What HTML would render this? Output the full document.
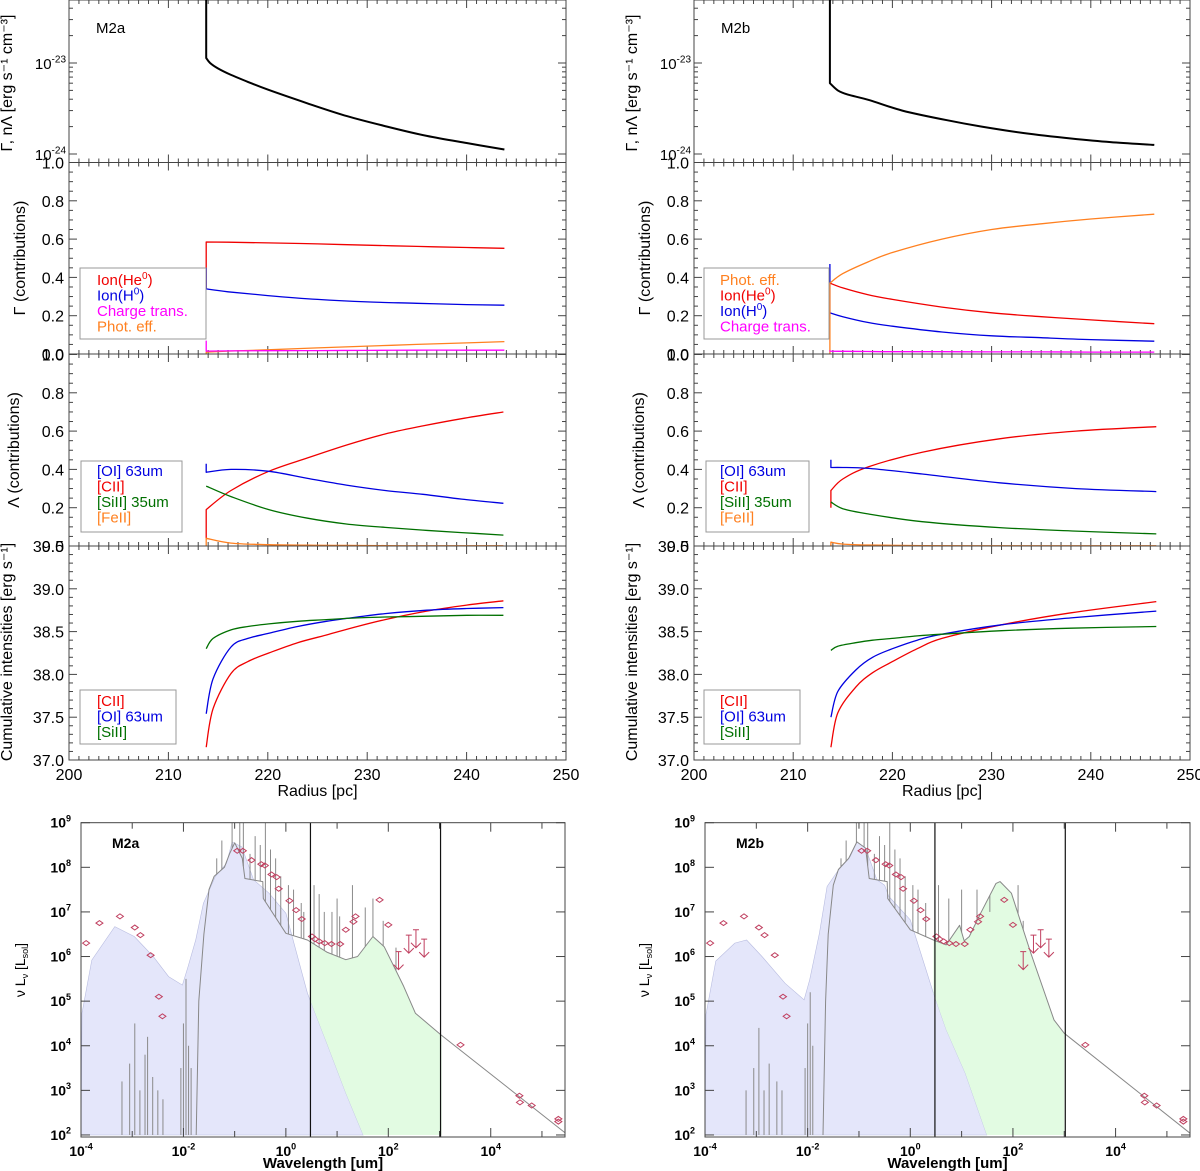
<!DOCTYPE html>
<html><head><meta charset="utf-8"><style>
body{margin:0;background:#fff}
svg{display:block;font-family:"Liberation Sans",sans-serif}
</style></head><body>
<svg id="fig" width="1200" height="1171" viewBox="0 0 1200 1171"></svg>
<script>
// ---------- Data: radius profiles (model M2a = L, M2b = R) ----------
const rHeatL=[213.8,213.8,214.2,215,216.3,218,220,224,228,232,236,240,243.8];
const heatL=[5e-23,1.135e-23,1.0e-23,8.7e-24,7.4e-24,6.2e-24,5.1e-24,3.6e-24,2.6e-24,2.0e-24,1.58e-24,1.32e-24,1.12e-24];
const rHeatR=[213.7,213.7,214.5,215.5,217.7,221,225.5,229,233.2,238,242,246.4];
const heatR=[5e-23,6.0e-24,5.0e-24,4.5e-24,3.9e-24,3.0e-24,2.35e-24,2.0e-24,1.7e-24,1.48e-24,1.35e-24,1.26e-24];

const rG2L=[213.8,213.8,216,220,225,230,235,240,243.8];
const heIonL=[0.34,0.585,0.584,0.58,0.575,0.568,0.562,0.556,0.552];
const hIonL=[0.45,0.34,0.325,0.305,0.285,0.272,0.265,0.258,0.255];
const ctL=[0.07,0.015,0.016,0.017,0.018,0.019,0.02,0.02,0.02];
const peL=[0.0,0.01,0.015,0.022,0.032,0.041,0.05,0.058,0.065];

const rG2R=[213.7,213.7,215,217.5,220,225,230,235,240,246.4];
const peR=[0.0,0.37,0.42,0.48,0.53,0.6,0.65,0.68,0.705,0.73];
const heIonR=[0.37,0.37,0.345,0.31,0.285,0.245,0.215,0.195,0.178,0.158];
const hIonR=[0.47,0.215,0.195,0.165,0.145,0.115,0.095,0.085,0.075,0.067];
const ctR=[0.02,0.015,0.014,0.013,0.012,0.012,0.011,0.011,0.01,0.01];

const rG3L=[213.8,213.8,216.3,220.1,224,227.9,231.8,235.6,239.5,243.7];
const ciiL=[0.04,0.19,0.29,0.39,0.46,0.527,0.585,0.627,0.665,0.70];
const oiL=[0.43,0.385,0.40,0.39,0.353,0.318,0.29,0.27,0.245,0.223];
const siiL=[0.313,0.313,0.258,0.19,0.145,0.115,0.097,0.083,0.07,0.057];
const feiiL=[0.0,0.04,0.015,0.007,0.004,0.003,0.002,0.001,0.001,0.001];

const rG3R=[213.8,213.8,215,217.6,223,230.8,238.5,246.6];
const ciiR=[0.2,0.29,0.35,0.414,0.49,0.56,0.60,0.623];
const oiR=[0.45,0.41,0.41,0.405,0.376,0.33,0.30,0.284];
const siiR=[0.23,0.23,0.195,0.167,0.127,0.096,0.078,0.063];
const feiiR=[0.0,0.02,0.01,0.005,0.002,0.001,0.001,0.001];

const rG4L=[213.8,214.5,216.3,218,220.1,223,225.9,229,231.8,236,240,243.7];
const ciiCumL=[37.15,37.6,38.01,38.15,38.25,38.37,38.46,38.56,38.64,38.74,38.81,38.86];
const oiCumL=[37.54,37.95,38.32,38.42,38.48,38.56,38.62,38.67,38.71,38.75,38.77,38.78];
const siiCumL=[38.30,38.42,38.52,38.56,38.59,38.62,38.64,38.66,38.67,38.68,38.69,38.69];
const rG4R=[213.8,214.5,216.3,218,220,222.5,225,231,238,246.6];
const ciiCumR=[37.15,37.55,37.85,38.02,38.15,38.3,38.42,38.58,38.72,38.85];
const oiCumR=[37.5,37.8,38.05,38.2,38.3,38.4,38.47,38.58,38.66,38.74];
const siiCumR=[38.28,38.33,38.37,38.40,38.42,38.45,38.47,38.51,38.54,38.56];

const radiusTicks=[200,210,220,230,240,250];
const fracTicks=[0.0,0.2,0.4,0.6,0.8,1.0];
const cumTicks=[37.0,37.5,38.0,38.5,39.0,39.5];

// ---------- Data: SEDs (log10 wavelength [um], log10 nuLnu [Lsol]) ----------
const stellarLamL=[-4,-3.98,-3.79,-3.34,-2.96,-2.59,-2.29,-2.02,-1.91,-1.76,-1.61,-1.38,-1.16,-1.05,-0.86,-0.63,-0.33,0.0,0.42,0.8,1.17,1.51];
const stellarLumL=[2,4.73,5.92,6.67,6.45,6.0,5.55,5.36,5.77,6.37,7.19,7.79,8.09,8.57,8.46,7.72,7.42,6.97,5.18,4.06,2.94,2];
const dustLamL=[0.49,0.8,1.17,1.4,1.7,1.92,2.3,2.53,3.04,3.04,1.51,1.17,0.8,0.49];
const dustLumL=[6.35,6.1,5.93,6.0,6.45,6.22,5.33,4.73,4.22,2,2,2.94,4.06,4.97];
const totLamL=[-1.75,-1.7,-1.6,-1.5,-1.4,-1.2,-1.1,-1.0,-0.85,-0.8,-0.45,-0.44,0,0.42,0.8,1.17,1.4,1.7,1.92,2.3,2.53,3.03,5.45];
const totLumL=[2,5,6.5,7.5,7.8,8.0,8.3,8.55,8.2,7.75,7.68,7.3,6.52,6.37,6.1,5.93,6.0,6.45,6.22,5.33,4.73,4.24,2.05];
const lineLamL=[-3.2,-3.05,-2.95,-2.85,-2.75,-2.7,-2.6,-2.5,-2.4,-2.05,-2.0,-1.95,-1.9,-1.85,-1.35,-1.25,-1.05,-0.9,-0.83,-0.7,-0.6,-0.5,-0.4,-0.3,-0.2,-0.1,0.05,0.15,0.3,0.35,0.55,0.65,0.75,0.9,1.0,1.05,1.3,1.55,1.7,1.9,2.15];
const lineTopL=[3.2,3.6,4.5,3.0,3.8,4.2,3.3,3.0,2.8,3.5,4.5,5.5,4.0,3.5,8.2,8.6,9,9,9,8.3,8.7,8.5,9,8.4,8.2,7.8,7.6,7.5,7.2,7.0,7.6,7.4,7.0,7.0,7.3,6.9,7.6,7.1,7.3,6.8,6.2];

const stellarLamR=[-4,-3.98,-3.79,-3.42,-3.19,-2.89,-2.44,-2.07,-1.96,-1.77,-1.62,-1.4,-1.17,-1.04,-0.87,-0.65,-0.5,-0.42,0.0,0.45,0.7,1.07,1.49];
const stellarLumR=[2,4.7,5.9,6.3,6.37,6.0,5.4,5.03,5.48,6.52,7.57,7.94,8.24,8.57,8.43,7.72,7.6,7.35,6.82,5.18,4.36,3.39,2];
const dustLamR=[0.45,0.7,0.96,1.05,1.15,1.37,1.67,1.75,1.97,2.35,2.8,3.0,3.0,1.49,1.07,0.7,0.45];
const dustLumR=[6.37,6.26,6.7,6.35,6.45,6.97,7.64,7.68,7.42,6.07,4.58,4.28,2,2,3.39,4.36,5.18];
const totLamR=[-1.7,-1.65,-1.6,-1.5,-1.4,-1.2,-1.04,-0.87,-0.8,-0.45,-0.44,0,0.45,0.7,0.96,1.05,1.15,1.37,1.67,1.75,1.97,2.35,2.8,3.0,5.45];
const totLumR=[2,5,6.5,7.6,7.95,8.2,8.57,8.43,7.75,7.68,7.3,6.6,6.37,6.26,6.7,6.35,6.45,6.97,7.64,7.68,7.42,6.07,4.58,4.28,2.04];
const lineLamR=[-3.2,-3.05,-2.95,-2.85,-2.75,-2.6,-2.5,-2.05,-2.0,-1.95,-1.9,-1.35,-1.25,-1.05,-0.9,-0.83,-0.7,-0.6,-0.5,-0.4,-0.3,-0.2,-0.1,0.05,0.15,0.3,0.55,0.75,1.0,1.3,1.55,2.1,2.2];
const lineTopR=[3.0,3.5,4.4,3.0,3.6,3.2,3.0,3.5,4.5,5.2,4.0,8.2,8.6,9,9,9,8.3,8.7,8.5,9,8.4,8.2,7.8,7.6,7.5,7.2,7.6,7.3,7.5,7.5,7.0,7.6,6.8];

const obsLam=[-3.9,-3.64,-3.24,-2.95,-2.84,-2.64,-2.48,-2.41,-0.95,-0.84,-0.67,-0.48,-0.41,-0.28,-0.18,-0.14,0.07,0.2,0.31,0.51,0.57,0.65,0.76,0.89,1.06,1.17,1.32,1.36,1.83,2.0,3.41,4.56,4.57,4.8,5.32,5.32];
const obsLum=[6.3,6.75,6.9,6.65,6.48,6.03,5.1,4.66,8.37,8.37,8.16,8.07,8.04,7.84,7.78,7.52,7.25,7.04,6.84,6.45,6.39,6.34,6.3,6.28,6.28,6.6,6.78,6.9,7.27,6.71,4.02,2.88,2.73,2.66,2.36,2.3];
const limLam=[2.2,2.4,2.54,2.7];
const limLum=[6.11,6.48,6.6,6.39];
const sedXTicks=[-4,-2,0,2,4];
const sedYTicks=[2,3,4,5,6,7,8,9];

// ---------- helpers ----------
const NS='http://www.w3.org/2000/svg';
const svg=document.getElementById('fig');
function mk(tag,attrs,parent){const e=document.createElementNS(NS,tag);for(const k in attrs)e.setAttribute(k,attrs[k]);(parent||svg).appendChild(e);return e;}
const AX='#444';
let clipId=0;
function clipFor(x0,y0,x1,y1){const id='c'+(clipId++);const cp=mk('clipPath',{id:id});mk('rect',{x:x0,y:y0,width:x1-x0,height:y1-y0},cp);return 'url(#'+id+')';}

function frame(g,x0,y0,x1,y1,name){
  const r=mk('rect',{x:x0,y:y0,width:x1-x0,height:y1-y0,fill:'none',stroke:AX,'stroke-width':1},g);
  
  
}
function tick(g,x1,y1,x2,y2){mk('line',{x1:x1,y1:y1,x2:x2,y2:y2,stroke:AX,'stroke-width':1},g);}
function txt(g,x,y,s,opts){const t=mk('text',Object.assign({x:x,y:y,'font-size':15,fill:'#000'},opts||{}),g);t.textContent=s;return t;}
function powLabel(g,x,y,exp,size,bold,anchor){
  const o={x:x,y:y,'font-size':size,'text-anchor':anchor,fill:'#000'};
  if(bold)o['font-weight']='bold';
  const t=mk('text',o,g);
  
  
  t.appendChild(document.createTextNode('10'));
  const s=mk('tspan',{'font-size':Math.round(size*0.65),dy:-size*0.45},t);
  s.textContent=String(exp);
  return t;
}
function smoothPath(pts){
  let d='M'+pts[0][0].toFixed(1)+','+pts[0][1].toFixed(1);
  for(let i=0;i<pts.length-1;i++){
    const p0=pts[Math.max(i-1,0)],p1=pts[i],p2=pts[i+1],p3=pts[Math.min(i+2,pts.length-1)];
    const same=(a,b)=>Math.abs(a[0]-b[0])<0.01;
    if(same(p1,p2)){d+=' L'+p2[0].toFixed(1)+','+p2[1].toFixed(1);continue;}
    const q0=same(p0,p1)?p1:p0,q3=same(p2,p3)?p2:p3;
    const c1=[p1[0]+(p2[0]-q0[0])/6,p1[1]+(p2[1]-q0[1])/6];
    const c2=[p2[0]-(q3[0]-p1[0])/6,p2[1]-(q3[1]-p1[1])/6];
    d+=' C'+c1[0].toFixed(1)+','+c1[1].toFixed(1)+' '+c2[0].toFixed(1)+','+c2[1].toFixed(1)+' '+p2[0].toFixed(1)+','+p2[1].toFixed(1);
  }
  return d;
}
function series(g,xs,ys,fx,fy,color,name,w,smooth){
  const pts=xs.map((x,i)=>[fx(x),fy(ys[i])]);
  let p;
  if(smooth) p=mk('path',{d:smoothPath(pts),fill:'none',stroke:color,'stroke-width':w||1.3,'stroke-linejoin':'round'},g);
  else p=mk('polyline',{points:pts.map(q=>q[0].toFixed(1)+','+q[1].toFixed(1)).join(' '),fill:'none',stroke:color,'stroke-width':w||1.3,'stroke-linejoin':'round'},g);
  
  
}
function legend(g,x0,y0,x1,y1,items,tx,ty0,dy,name){
  const lg=mk('g',{},g);
  
  
  mk('rect',{x:x0,y:y0,width:x1-x0,height:y1-y0,fill:'#fff',stroke:'#999','stroke-width':1},lg);
  items.forEach((it,i)=>{
    const t=mk('text',{x:tx,y:ty0+i*dy,'font-size':15,fill:it[1]},lg);
    
    
    if(it[2]){t.textContent=it[0];const s=mk('tspan',{'font-size':10,dy:-6},t);s.textContent=it[2];const s2=mk('tspan',{dy:6},t);s2.textContent=')';}
    else t.textContent=it[0];
  });
}

// ---------- radius column ----------
function column(X0,X1,side,label,d){
  const g=mk('g',{});
  
  
  const xr=r=>X0+(r-200)/50*(X1-X0);
  const P=[[0,162.5],[162.5,354],[354,546],[546,760]];
  const y1=v=>63+(-23-Math.log10(v))*91;
  const yF2=v=>354-191.5*v, yF3=v=>546-191.5*v, y4=v=>760-(v-37)/2.5*214;
  const panels=[];
  for(let i=0;i<4;i++){
    const pg=mk('g',{},g);
    
    
    panels.push(pg);
  }
  P.forEach((p,i)=>{
    for(let r=200;r<=250;r+=1){const L=(r%10===0)?8:4;const x=xr(r);tick(panels[i],x,p[1],x,p[1]-L);tick(panels[i],x,p[0],x,p[0]+L);}
  });
  [[-24,1],[-24,2],[-24,3],[-24,4],[-24,5],[-24,6],[-24,7],[-24,8],[-24,9],[-23,1],[-23,2],[-23,3],[-23,4]].forEach(([e,m])=>{
    const y=y1(m*Math.pow(10,e));const L=m===1?8:4;if(y<0||y>162)return;tick(panels[0],X0,y,X0+L,y);tick(panels[0],X1,y,X1-L,y);
  });
  powLabel(panels[0],X0-3,y1(1e-23)+6,-23,15,false,'end');
  powLabel(panels[0],X0-3,y1(1e-24)+6,-24,15,false,'end');
  [[panels[1],yF2],[panels[2],yF3]].forEach(([pg,fy])=>{
    for(let k=0;k<=20;k++){const v=k*0.05;const y=fy(v);const L=(k%4===0)?8:4;tick(pg,X0,y,X0+L,y);tick(pg,X1,y,X1-L,y);}
    fracTicks.forEach(v=>txt(pg,X0-5,fy(v)+6,v.toFixed(1),{'text-anchor':'end','font-size':16}));
  });
  for(let k=0;k<=25;k++){const v=37+k*0.1;const y=y4(v);const L=(k%5===0)?8:4;tick(panels[3],X0,y,X0+L,y);tick(panels[3],X1,y,X1-L,y);}
  cumTicks.forEach(v=>txt(panels[3],X0-5,y4(v)+6,v.toFixed(1),{'text-anchor':'end','font-size':16}));
  radiusTicks.forEach(r=>{const t=txt(g,xr(r),780,String(r),{'text-anchor':'middle','font-size':16});});
  const xt=txt(g,(X0+X1)/2,796,'Radius [pc]',{'text-anchor':'middle','font-size':16});
  
  
  P.forEach((p,i)=>frame(panels[i],X0,p[0],X1,p[1],'panel-frame'));
  const c1=mk('g',{'clip-path':clipFor(X0,0,X1,162.5)},panels[0]);
  series(c1,d.rH,d.heat,xr,y1,'#000','heating-cooling-curve',2,true);
  const c2=mk('g',{'clip-path':clipFor(X0,162,X1,355)},panels[1]);
  d.p2.forEach(s=>series(c2,d.r2,s[0],xr,yF2,s[1],s[2],1.3,true));
  const c3=mk('g',{'clip-path':clipFor(X0,354,X1,547)},panels[2]);
  d.p3.forEach(s=>series(c3,d.r3,s[0],xr,yF3,s[1],s[2],1.3,true));
  const c4=mk('g',{'clip-path':clipFor(X0,546,X1,760)},panels[3]);
  d.p4.forEach(s=>series(c4,d.r4,s[0],xr,y4,s[1],s[2],1.3,true));
  const m=txt(panels[0],X0+27,33,label,{'font-size':15});
  
  
  const yl=[[X0-57,83,'Γ, nΛ [erg s⁻¹ cm⁻³]',1],[X0-44,258,'Γ (contributions)',2],[X0-50,450,'Λ (contributions)',3],[X0-57,652,'Cumulative intensities [erg s⁻¹]',4]];
  yl.forEach(a=>{const t=txt(g,a[0],a[1],a[2],{'text-anchor':'middle','font-size':16,transform:'rotate(-90 '+a[0]+' '+a[1]+')'});});
  return {g,xr};
}

const colL=column(69,566,'m2a','M2a',{rH:rHeatL,heat:heatL,r2:rG2L,
  p2:[[heIonL,'#f00000','ion-he0-line'],[hIonL,'#0000e0','ion-h0-line'],[peL,'#ff8020','phot-eff-line'],[ctL,'#ff00ff','charge-trans-line']],
  r3:rG3L,p3:[[ciiL,'#f00000','cii-line'],[oiL,'#0000e0','oi-63um-line'],[siiL,'#007000','siii-35um-line'],[feiiL,'#ff8020','feii-line']],
  r4:rG4L,p4:[[ciiCumL,'#f00000','cii-cumulative'],[oiCumL,'#0000e0','oi-cumulative'],[siiCumL,'#007000','siii-cumulative']]});
const colR=column(694,1190,'m2b','M2b',{rH:rHeatR,heat:heatR,r2:rG2R,
  p2:[[heIonR,'#f00000','ion-he0-line'],[hIonR,'#0000e0','ion-h0-line'],[peR,'#ff8020','phot-eff-line'],[ctR,'#ff00ff','charge-trans-line']],
  r3:rG3R,p3:[[ciiR,'#f00000','cii-line'],[oiR,'#0000e0','oi-63um-line'],[siiR,'#007000','siii-35um-line'],[feiiR,'#ff8020','feii-line']],
  r4:rG4R,p4:[[ciiCumR,'#f00000','cii-cumulative'],[oiCumR,'#0000e0','oi-cumulative'],[siiCumR,'#007000','siii-cumulative']]});

legend(colL.g,80,268,206,339,[['Ion(He','#f00000','0'],['Ion(H','#0000e0','0'],['Charge trans.','#ff00ff'],['Phot. eff.','#ff8020']],97,285,15.5,'heating-legend');
legend(colR.g,704,268,829,339,[['Phot. eff.','#ff8020'],['Ion(He','#f00000','0'],['Ion(H','#0000e0','0'],['Charge trans.','#ff00ff']],720,285,15.5,'heating-legend');
legend(colL.g,81,461,182,532,[['[OI] 63um','#0000e0'],['[CII]','#f00000'],['[SiII] 35um','#007000'],['[FeII]','#ff8020']],97,476,15.5,'cooling-legend');
legend(colR.g,706,461,809,532,[['[OI] 63um','#0000e0'],['[CII]','#f00000'],['[SiII] 35um','#007000'],['[FeII]','#ff8020']],720,476,15.5,'cooling-legend');
legend(colL.g,80,690,176,744,[['[CII]','#f00000'],['[OI] 63um','#0000e0'],['[SiII]','#007000']],97,706,15.5,'cumulative-legend');
legend(colR.g,704,690,800,744,[['[CII]','#f00000'],['[OI] 63um','#0000e0'],['[SiII]','#007000']],720,706,15.5,'cumulative-legend');

// ---------- SED panels ----------
function interp(xs,ys,x){for(let i=1;i<xs.length;i++){if(x<=xs[i]){const a=xs[i-1],b=xs[i];const t=b===a?0:(x-a)/(b-a);return ys[i-1]+t*(ys[i]-ys[i-1]);}}return ys[ys.length-1];}
function sed(X0,X1,side,label,d){
  const Y0=822.7,Y1=1137;
  const fx=l=>X0+(l+4)/9.45*(X1-X0);
  const fy=l=>822.7+(9-l)*44.61;
  const g=mk('g',{});
  
  
  const c=mk('g',{'clip-path':clipFor(X0,Y0,X1,Y1)},g);
  const poly=(xs,ys)=>xs.map((x,i)=>fx(x).toFixed(1)+','+fy(ys[i]).toFixed(1)).join(' ');
  const b=mk('polygon',{points:poly(d.sLam,d.sLum),fill:'#e4e6fa',stroke:'#b8bce0','stroke-width':0.6},c);
  
  
  const gr=mk('polygon',{points:poly(d.dLam,d.dLum),fill:'#e2fbe2',stroke:'none'},c);
  
  
  d.lLam.forEach((l,i)=>{
    const base=l<-1.75?2:interp(d.tLam,d.tLum,l);
    const ln=mk('line',{x1:fx(l),y1:fy(base),x2:fx(l),y2:fy(d.lTop[i]),stroke:'#8a8a8a','stroke-width':1},c);
    
    
  });
  series(c,d.tLam,d.tLum,fx,fy,'#888','total-model-spectrum',1,false);
  [0.48,3.02].forEach(l=>{const v=mk('line',{x1:fx(l),y1:Y0,x2:fx(l),y2:Y1,stroke:'#111','stroke-width':1.2},g);});
  obsLam.forEach((l,i)=>{
    const x=fx(l),y=fy(obsLum[i]);
    const p=mk('polygon',{points:`${x-3.5},${y} ${x},${y-2.5} ${x+3.5},${y} ${x},${y+2.5}`,fill:'none',stroke:'#c04060','stroke-width':1},c);
    
    
  });
  limLam.forEach((l,i)=>{
    const x=fx(l),y=fy(limLum[i]);
    const a=mk('path',{d:`M${x},${y} L${x},${y+18} M${x-5},${y+13} L${x},${y+18} L${x+5},${y+13} M${x-3},${y} L${x+3},${y}`,fill:'none',stroke:'#c04060','stroke-width':1},c);
    
    
  });
  frame(g,X0,Y0,X1,Y1,'sed-frame');
  for(let l=-4;l<=5;l++){const x=fx(l);const L=(l%2===0)?9:6;tick(g,x,Y1,x,Y1-L);tick(g,x,Y0,x,Y0+L);}
  sedYTicks.forEach(l=>{const y=fy(l);tick(g,X0,y,X0+9,y);tick(g,X1,y,X1-9,y);
    powLabel(g,X0-10,y+5,l,14,true,'end');});
  sedXTicks.forEach(l=>{const x=fx(l);
    powLabel(g,x,1156,l,14,true,'middle');});
  const xt=txt(g,(X0+X1)/2,1168,'Wavelength [um]',{'text-anchor':'middle','font-size':15,'font-weight':'bold'});
  
  
  const yx=X0-56,yy=970;
  const yt=mk('text',{x:yx,y:yy,'font-size':14,'text-anchor':'middle',transform:`rotate(-90 ${yx} ${yy})`},g);
  
  
  yt.innerHTML='ν L<tspan font-size="9" dy="3">ν</tspan><tspan dy="-3"> [L</tspan><tspan font-size="9" dy="3">sol</tspan><tspan dy="-3">]</tspan>';
  const m=txt(g,X0+31,848,label,{'font-size':14,'font-weight':'bold'});
  
  
}
sed(81,565,'m2a','M2a',{sLam:stellarLamL,sLum:stellarLumL,dLam:dustLamL,dLum:dustLumL,tLam:totLamL,tLum:totLumL,lLam:lineLamL,lTop:lineTopL});
sed(705,1190,'m2b','M2b',{sLam:stellarLamR,sLum:stellarLumR,dLam:dustLamR,dLum:dustLumR,tLam:totLamR,tLum:totLumR,lLam:lineLamR,lTop:lineTopR});
</script>
</body></html>
